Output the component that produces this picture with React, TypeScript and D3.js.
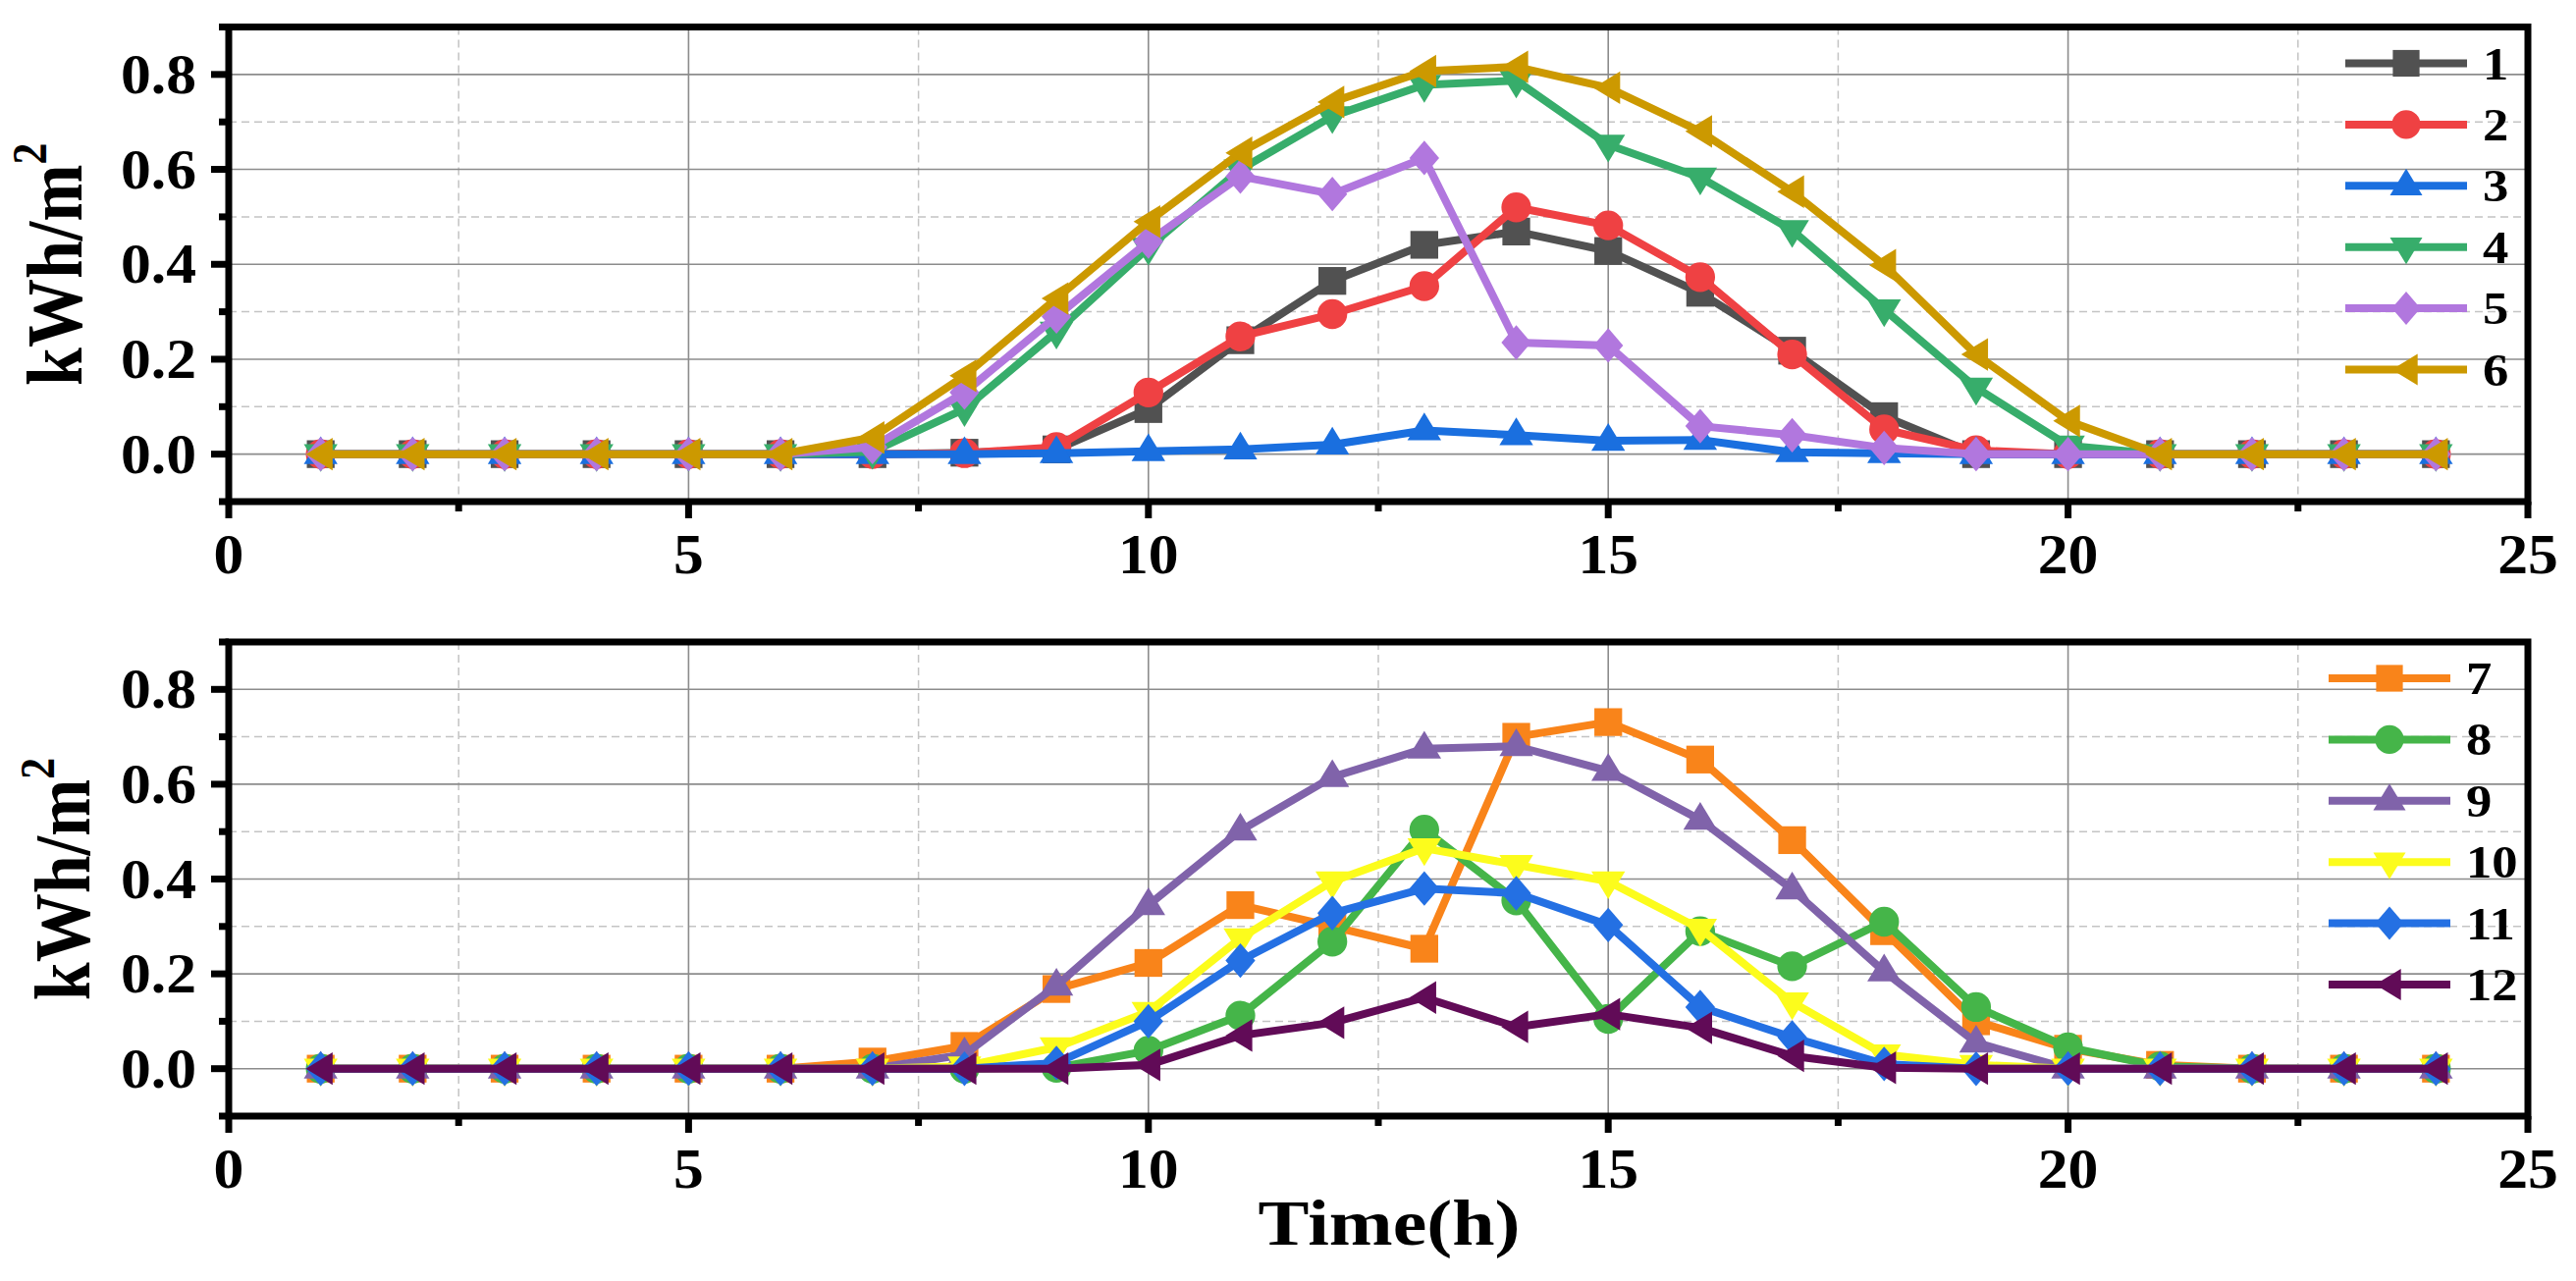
import React, { useEffect, useRef } from "react";
import * as d3 from "d3";

// hours on the x axis
const hours = [1, 2, 3, 4, 5, 6, 7, 8, 9, 10, 11, 12, 13, 14, 15, 16, 17, 18, 19, 20, 21, 22, 23, 24];

// upper panel, series 1-6 (kWh/m2)
const s1 = [0, 0, 0, 0, 0, 0, 0, 0.003, 0.01, 0.095, 0.24, 0.365, 0.441, 0.469, 0.428, 0.34, 0.218, 0.08, 0, 0, 0, 0, 0, 0];
const s2 = [0, 0, 0, 0, 0, 0, 0, 0.002, 0.015, 0.13, 0.248, 0.295, 0.354, 0.52, 0.482, 0.373, 0.21, 0.052, 0.008, 0, 0, 0, 0, 0];
const s3 = [0, 0, 0, 0, 0, 0, 0, 0, 0.002, 0.006, 0.01, 0.02, 0.05, 0.04, 0.028, 0.03, 0.004, 0.002, 0, 0, 0, 0, 0, 0];
const s4 = [0, 0, 0, 0, 0, 0, 0.005, 0.095, 0.258, 0.435, 0.6, 0.712, 0.778, 0.787, 0.652, 0.583, 0.472, 0.305, 0.14, 0.018, 0, 0, 0, 0];
const s5 = [0, 0, 0, 0, 0, 0, 0.015, 0.13, 0.29, 0.448, 0.585, 0.548, 0.624, 0.235, 0.229, 0.059, 0.04, 0.013, 0, 0, 0, 0, 0, 0];
const s6 = [0, 0, 0, 0, 0, 0, 0.035, 0.165, 0.328, 0.49, 0.635, 0.742, 0.807, 0.816, 0.772, 0.68, 0.553, 0.398, 0.21, 0.07, 0, 0, 0, 0];

// lower panel, series 7-12
const s7 = [0, 0, 0, 0, 0, 0, 0.015, 0.048, 0.168, 0.223, 0.345, 0.3, 0.253, 0.7, 0.731, 0.652, 0.482, 0.29, 0.1, 0.042, 0.008, 0, 0, 0];
const s8 = [0, 0, 0, 0, 0, 0, 0, 0, 0.002, 0.038, 0.112, 0.268, 0.504, 0.355, 0.105, 0.29, 0.216, 0.31, 0.13, 0.045, 0.005, 0, 0, 0];
const s9 = [0, 0, 0, 0, 0, 0, 0, 0.03, 0.175, 0.345, 0.502, 0.615, 0.675, 0.68, 0.628, 0.525, 0.378, 0.205, 0.055, 0, 0, 0, 0, 0];
const s10 = [0, 0, 0, 0, 0, 0, 0, 0.005, 0.045, 0.12, 0.275, 0.395, 0.465, 0.43, 0.395, 0.295, 0.14, 0.03, 0.008, 0, 0, 0, 0, 0];
const s11 = [0, 0, 0, 0, 0, 0, 0, 0, 0.012, 0.1, 0.228, 0.328, 0.38, 0.37, 0.303, 0.13, 0.066, 0.01, 0, 0, 0, 0, 0, 0];
const s12 = [0, 0, 0, 0, 0, 0, 0, 0, 0, 0.008, 0.07, 0.097, 0.15, 0.088, 0.115, 0.086, 0.027, 0.002, 0, 0, 0, 0, 0, 0];

const topNames = ["1", "2", "3", "4", "5", "6"];
const bottomNames = ["7", "8", "9", "10", "11", "12"];
const topColors = ["#515151", "#ef4143", "#1a6fdf", "#37ad6b", "#b177de", "#cc9900"];
const bottomColors = ["#f9841a", "#45b549", "#8063aa", "#fcfc1c", "#2470e3", "#610b57"];

const xMajor = [0, 5, 10, 15, 20, 25];
const xMinor = [2.5, 7.5, 12.5, 17.5, 22.5];
const yMajor = [0, 0.2, 0.4, 0.6, 0.8];
const yMinor = [-0.1, 0.1, 0.3, 0.5, 0.7, 0.9];

const FONT = "'Liberation Serif', 'Times New Roman', serif";

// marker shapes, drawn around the data point (size 784 = 28px box)
const shape = (pts: [number, number][]) => ({
  draw(ctx: any, size: number) {
    const s = Math.sqrt(size) / 28;
    ctx.moveTo(pts[0][0] * s, pts[0][1] * s);
    for (let i = 1; i < pts.length; i++) ctx.lineTo(pts[i][0] * s, pts[i][1] * s);
    ctx.closePath();
  },
});
const symSquare = shape([[-14, -14], [14, -14], [14, 14], [-14, 14]]);
const symCircle = {
  draw(ctx: any, size: number) {
    const r = (Math.sqrt(size) / 28) * 15;
    ctx.moveTo(r, 0);
    ctx.arc(0, 0, r, 0, 2 * Math.PI);
  },
};
const symUp = shape([[0, -18], [17, 10], [-17, 10]]);
const symDown = shape([[0, 18], [17, -10], [-17, -10]]);
const symDiamond = shape([[0, -17.5], [15, 0], [0, 17.5], [-15, 0]]);
const symLeft = shape([[-15, 0], [12, -16.5], [12, 16.5]]);
const symbols = [symSquare, symCircle, symUp, symDown, symDiamond, symLeft];

const App: React.FC = () => {
  const svgRef = useRef<SVGSVGElement | null>(null);
  const width = 2624;
  const height = 1305;

  useEffect(() => {
    const svgElement = svgRef.current;
    if (!svgElement) return;
    const svg = d3.select(svgElement);
    svg.selectAll("*").remove();

    const x = d3.scaleLinear().domain([0, 25]).range([233, 2575]);

    const addText = (g: any, px: number, py: number, txt: string, size: number, anchor: string, sx: number) =>
      g
        .append("text")
        .attr("transform", `translate(${px},${py}) scale(${sx},1)`)
        .attr("text-anchor", anchor)
        .style("font-family", FONT)
        .style("font-weight", "bold")
        .style("font-size", `${size}px`)
        .attr("fill", "#000")
        .text(txt);

    const panels = [
      { top: 27.5, bottom: 511, data: [s1, s2, s3, s4, s5, s6], names: topNames, colors: topColors, legendX: 2389, ylabX: 83 },
      { top: 654, bottom: 1137, data: [s7, s8, s9, s10, s11, s12], names: bottomNames, colors: bottomColors, legendX: 2372, ylabX: 91 },
    ];

    panels.forEach((p) => {
      const y = d3.scaleLinear().domain([-0.1, 0.9]).range([p.bottom, p.top]);
      const g = svg.append("g");
      const left = x(0);
      const right = x(25);

      // grid
      g.selectAll(".gx-minor")
        .data(xMinor)
        .enter()
        .append("line")
        .attr("x1", (d) => x(d))
        .attr("x2", (d) => x(d))
        .attr("y1", p.top)
        .attr("y2", p.bottom)
        .attr("stroke", "#c4c4c4")
        .attr("stroke-width", 1.5)
        .attr("stroke-dasharray", "8,5");
      g.selectAll(".gy-minor")
        .data(yMinor.filter((d) => d > -0.1 && d < 0.9))
        .enter()
        .append("line")
        .attr("x1", left)
        .attr("x2", right)
        .attr("y1", (d) => y(d))
        .attr("y2", (d) => y(d))
        .attr("stroke", "#c4c4c4")
        .attr("stroke-width", 1.5)
        .attr("stroke-dasharray", "8,5");
      g.selectAll(".gx-major")
        .data(xMajor.filter((d) => d > 0 && d < 25))
        .enter()
        .append("line")
        .attr("x1", (d) => x(d))
        .attr("x2", (d) => x(d))
        .attr("y1", p.top)
        .attr("y2", p.bottom)
        .attr("stroke", "#8c8c8c")
        .attr("stroke-width", 1.6);
      g.selectAll(".gy-major")
        .data(yMajor)
        .enter()
        .append("line")
        .attr("x1", left)
        .attr("x2", right)
        .attr("y1", (d) => y(d))
        .attr("y2", (d) => y(d))
        .attr("stroke", "#8c8c8c")
        .attr("stroke-width", 1.6);

      // series
      const line = d3
        .line<number>()
        .x((d, i) => x(hours[i]))
        .y((d) => y(d));

      p.data.forEach((vals, k) => {
        g.append("path")
          .datum(vals)
          .attr("d", line)
          .attr("fill", "none")
          .attr("stroke", p.colors[k])
          .attr("stroke-width", 8)
          .attr("stroke-linejoin", "round");
        g.selectAll(`.m${k}`)
          .data(vals)
          .enter()
          .append("path")
          .attr("d", d3.symbol().type(symbols[k] as any).size(800) as any)
          .attr("transform", (d, i) => `translate(${x(hours[i])},${y(d)})`)
          .attr("fill", p.colors[k]);
      });

      // frame and ticks
      g.append("rect")
        .attr("x", left)
        .attr("y", p.top)
        .attr("width", right - left)
        .attr("height", p.bottom - p.top)
        .attr("fill", "none")
        .attr("stroke", "#000")
        .attr("stroke-width", 7);
      yMajor.forEach((d) => {
        g.append("line").attr("x1", left - 18).attr("x2", left).attr("y1", y(d)).attr("y2", y(d)).attr("stroke", "#000").attr("stroke-width", 7);
        addText(g, 200, y(d) + 19, d.toFixed(1), 56, "end", 1.1);
      });
      yMinor.forEach((d) => {
        g.append("line").attr("x1", left - 10).attr("x2", left).attr("y1", y(d)).attr("y2", y(d)).attr("stroke", "#000").attr("stroke-width", 7);
      });
      xMajor.forEach((d) => {
        g.append("line").attr("x1", x(d)).attr("x2", x(d)).attr("y1", p.bottom).attr("y2", p.bottom + 17).attr("stroke", "#000").attr("stroke-width", 7);
        addText(g, x(d), p.bottom + 73, String(d), 56, "middle", 1.1);
      });
      xMinor.forEach((d) => {
        g.append("line").attr("x1", x(d)).attr("x2", x(d)).attr("y1", p.bottom).attr("y2", p.bottom + 10).attr("stroke", "#000").attr("stroke-width", 7);
      });

      // y axis title
      const yl = g
        .append("text")
        .attr("transform", `translate(${p.ylabX},${(p.top + p.bottom) / 2}) scale(1.14,1) rotate(-90)`)
        .attr("text-anchor", "middle")
        .style("font-family", FONT)
        .style("font-weight", "bold")
        .style("font-size", "70px")
        .attr("fill", "#000");
      yl.append("tspan").text("kWh/m");
      yl.append("tspan").style("font-size", "44px").attr("dy", -32).text("2");

      // legend
      p.names.forEach((name, k) => {
        const ly = p.top + 37 + k * 62.4;
        g.append("line")
          .attr("x1", p.legendX)
          .attr("x2", p.legendX + 124)
          .attr("y1", ly)
          .attr("y2", ly)
          .attr("stroke", p.colors[k])
          .attr("stroke-width", 8);
        g.append("path")
          .attr("d", d3.symbol().type(symbols[k] as any).size(740) as any)
          .attr("transform", `translate(${p.legendX + 62},${ly})`)
          .attr("fill", p.colors[k]);
        addText(g, p.legendX + 140, ly + 16, name, 47, "start", 1.12);
      });
    });

    addText(svg, 1415, 1268, "Time(h)", 66, "middle", 1.18);
  }, []);

  return (
    <div style={{ position: "absolute", left: 0, top: 0 }}>
      <svg ref={svgRef} width={width} height={height} style={{ display: "block", background: "white" }}></svg>
    </div>
  );
};

export default App;
